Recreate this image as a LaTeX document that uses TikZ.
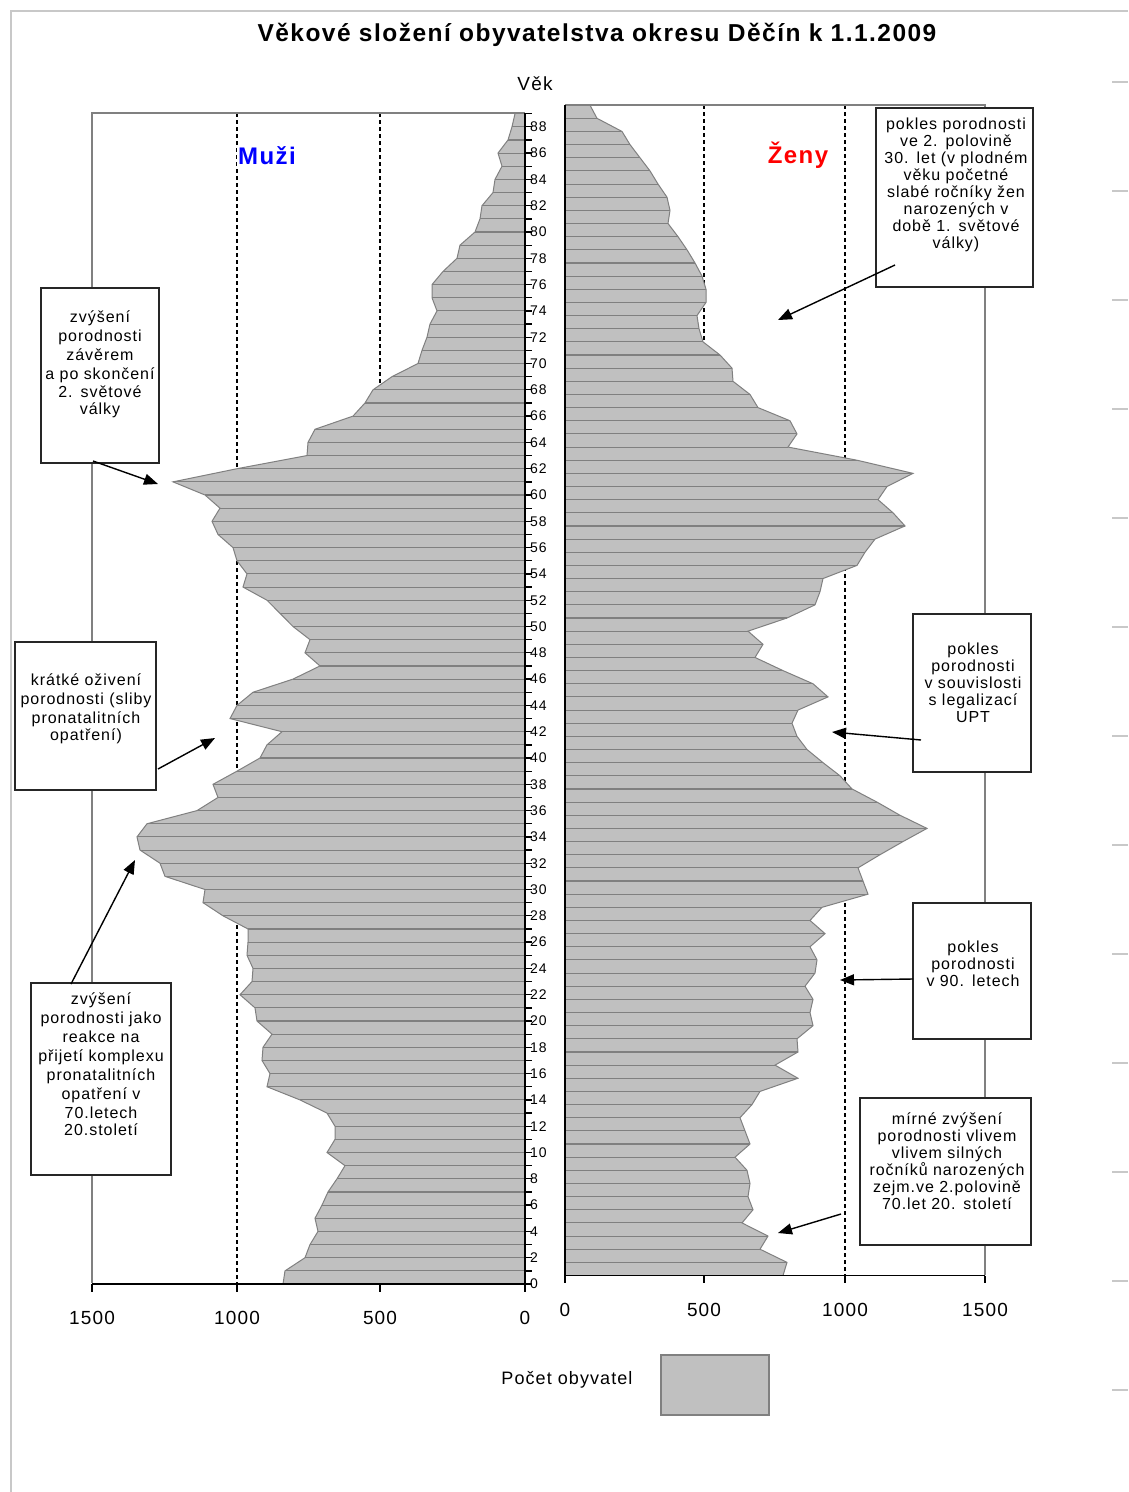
\documentclass[tikz,border=0pt]{standalone}
\usepackage{fontspec}
\setmainfont{Liberation Sans}
\newfontfamily\lsans[LetterSpace=6]{Liberation Sans}
\usetikzlibrary{arrows.meta}
\definecolor{fillg}{HTML}{C0C0C0}
\definecolor{lineg}{HTML}{808080}
\definecolor{frameg}{HTML}{C8C8C8}
\definecolor{muzblue}{HTML}{0000FF}
\definecolor{zenred}{HTML}{FF0000}
\def\maleData{0/283,1/285,2/305,3/310,4/318,5/315,6/322,7/328,8/337,9/345,10/327,11/335,12/335,13/327,14/300,15/267,16/270,17/262,18/263,19/272,20/257,21/255,22/240,23/252,24/253,25/247,26/248,27/248,28/223,29/203,30/205,31/165,32/160,33/140,34/137,35/147,36/197,37/218,38/213,39/237,40/260,41/267,42/282,43/230,44/237,45/253,46/293,47/320,48/305,49/310,50/293,51/280,52/267,53/243,54/247,55/237,56/233,57/218,58/212,59/220,60/205,61/173,62/237,63/307,64/308,65/315,66/353,67/365,68/373,69/392,70/418,71/422,72/427,73/430,74/437,75/432,76/432,77/443,78/457,79/460,80/475,81/480,82/482,83/493,84/495,85/502,86/498,87/508,88/512,89/515}
\def\femaleData{0/783,1/787,2/760,3/768,4/742,5/753,6/748,7/750,8/747,9/735,10/750,11/745,12/740,13/752,14/760,15/798,16/775,17/798,18/797,19/813,20/810,21/813,22/805,23/815,24/817,25/810,26/825,27/810,28/822,29/868,30/863,31/858,32/880,33/903,34/927,35/900,36/877,37/852,38/840,39/823,40/807,41/797,42/792,43/798,44/828,45/813,46/783,47/755,48/763,49/748,50/787,51/815,52/820,53/823,54/857,55/865,56/875,57/905,58/893,59/878,60/887,61/913,62/857,63/788,64/797,65/790,66/758,67/750,68/733,69/732,70/720,71/703,72/699,73/697,74/706,75/706,76/702,77/695,78/687,79/678,80/668,81/670,82/667,83/658,84/650,85/640,86/630,87/622,88/597,89/590}
\begin{document}
\begin{tikzpicture}[x=1pt,y=-1pt,
  gridline/.style={black,line width=1.3pt,dash pattern=on 4pt off 3pt},
  plotframe/.style={lineg,line width=1.3pt},
  axisline/.style={black,line width=1.3pt},
  barline/.style={lineg,line width=1.1pt},
  annbox/.style={draw=black!85,line width=1.5pt,fill=white,rectangle,inner sep=0pt},
  anntext/.style={font=\lsans\fontsize{16}{17}\selectfont,align=center,inner sep=0pt,anchor=north},
  numlbl/.style={font=\lsans\fontsize{19}{22}\selectfont,inner sep=0pt},
  agelbl/.style={font=\lsans\fontsize{14}{16}\selectfont,inner sep=0pt,anchor=west},
  conn/.style={draw=black,line width=1.4pt,-{Triangle[length=14pt,width=11pt]}}]
\useasboundingbox (0,0) rectangle (1128,1492);
\fill[white] (0,0) rectangle (1128,1492);
% outer sheet frame
\draw[frameg,line width=1.3pt] (11,1492) -- (11,11) -- (1128,11);
\foreach \yy in {82,191,...,1390} \draw[frameg,line width=1.3pt] (1112,\yy) -- (1128,\yy);
% title
\node[font=\lsans\bfseries\fontsize{24.5}{28}\selectfont,inner sep=0pt] (title) at (597,35) {Věkové složení obyvatelstva okresu Děčín k 1.1.2009};
\node[font=\lsans\fontsize{19}{22}\selectfont,inner sep=0pt] (vek) at (535,84) {Věk};
% gridlines
\draw[gridline] (237,113) -- (237,1283);
\draw[gridline] (380,113) -- (380,1283);
\draw[gridline] (704,105) -- (704,1275);
\draw[gridline] (845,105) -- (845,1275);
% plot frames
\draw[plotframe] (92,1283) -- (92,113) -- (525,113);
\draw[plotframe] (565,105) -- (985,105) -- (985,1275);
% male area
\fill[fillg] (525,1284) \foreach \a/\v in \maleData { -- (\v,{1284-13.15*\a}) } -- (525,{1284-13.15*89}) -- cycle;
\foreach \a/\v in \maleData { \draw[barline] (525,{1284-13.15*\a}) -- (\v,{1284-13.15*\a}); }
\draw[lineg,line width=1pt] (283,1284) \foreach \a/\v in \maleData { -- (\v,{1284-13.15*\a}) };
% female area
\fill[fillg] (565,1275.5) \foreach \a/\v in \femaleData { -- (\v,{1275.5-13.15*\a}) } -- (565,{1275.5-13.15*89}) -- cycle;
\foreach \a/\v in \femaleData { \draw[barline] (565,{1275.5-13.15*\a}) -- (\v,{1275.5-13.15*\a}); }
\draw[lineg,line width=1pt] (783,1275.5) \foreach \a/\v in \femaleData { -- (\v,{1275.5-13.15*\a}) };
% axes
\draw[axisline] (525,113) -- (525,1284);
\foreach \a in {0,...,89} \draw[axisline] (525,{1284-13.15*\a}) -- (532,{1284-13.15*\a});
\foreach \a in {0,2,...,88} \node[agelbl] (age\a) at (530,{1284-13.15*\a}) {\a};
\draw[axisline] (565,105) -- (565,1276);
\draw[axisline] (92,1284) -- (525,1284);
\foreach \xx in {92,237,380,525} \draw[axisline] (\xx,1284) -- (\xx,1292);
\draw[axisline] (565,1275.5) -- (985,1275.5);
\foreach \xx in {565,704,845,985} \draw[axisline] (\xx,1275.5) -- (\xx,1283);
\node[numlbl] (l1500) at (92,1318) {1500};
\node[numlbl] (l1000) at (237,1318) {1000};
\node[numlbl] (l500) at (380,1318) {500};
\node[numlbl] (l0) at (525,1318) {0};
\node[numlbl] (r0) at (565,1310) {0};
\node[numlbl] (r500) at (704,1310) {500};
\node[numlbl] (r1000) at (845,1310) {1000};
\node[numlbl] (r1500) at (985,1310) {1500};
% series labels
\node[font=\lsans\bfseries\fontsize{24}{28}\selectfont,text=muzblue,fill=white,inner sep=1pt] (muzi) at (267,156) {Muži};
\node[font=\lsans\bfseries\fontsize{24}{28}\selectfont,text=zenred,inner sep=1pt] (zeny) at (798,155) {Ženy};
% legend
\node[font=\lsans\fontsize{18}{22}\selectfont,inner sep=0pt] (legtext) at (567,1380) {Počet obyvatel};
\node[draw=lineg,fill=fillg,line width=1.2pt,minimum width=108pt,minimum height=60pt,inner sep=0pt] (legkey) at (715,1385) {};
% annotation boxes
\node[annbox,minimum width=118pt,minimum height=175pt] (lb1) at (100,375.5) {};
\node[anntext,text width=116pt] (lt1) at (100,311) {\fontsize{16}{18.7}\selectfont zvýšení\\porodnosti\\závěrem\\a po skončení\\2. světové\\války};
\node[annbox,minimum width=141pt,minimum height=148pt] (lb2) at (85.5,716) {};
\node[anntext,text width=139pt] (lt2) at (86,674) {\fontsize{16}{18.7}\selectfont krátké oživení\\porodnosti (sliby\\pronatalitních\\opatření)};
\node[annbox,minimum width=140pt,minimum height=192pt] (lb3) at (101,1079) {};
\node[anntext,text width=138pt] (lt3) at (101,993) {\fontsize{16}{18.9}\selectfont zvýšení\\porodnosti jako\\reakce na\\přijetí komplexu\\pronatalitních\\opatření  v\\70.letech\\20.století};
\node[annbox,minimum width=157pt,minimum height=179pt] (rb1) at (954.5,197.5) {};
\node[anntext,text width=155pt] (rt1) at (956,118) {pokles porodnosti\\ve 2. polovině\\30. let (v plodném\\věku početné\\slabé ročníky žen\\narozených v\\době 1. světové\\války)};
\node[annbox,minimum width=118pt,minimum height=158pt] (rb2) at (972,693) {};
\node[anntext,text width=116pt] (rt2) at (973,643) {pokles\\porodnosti\\v souvislosti\\s legalizací\\UPT};
\node[annbox,minimum width=118pt,minimum height=136pt] (rb3) at (972,971) {};
\node[anntext,text width=116pt] (rt3) at (973,941) {pokles\\porodnosti\\v 90. letech};
\node[annbox,minimum width=171pt,minimum height=147pt] (rb4) at (945.5,1171.5) {};
\node[anntext,text width=169pt] (rt4) at (947,1113) {mírné zvýšení\\porodnosti vlivem\\vlivem silných\\ročníků narozených\\zejm.ve 2.polovině\\70.let 20. století};
% arrows
\coordinate (a1s) at (93,461); \coordinate (a1e) at (158,484);
\coordinate (a2s) at (158,769); \coordinate (a2e) at (215,738);
\coordinate (a3s) at (71,984); \coordinate (a3e) at (135,860);
\coordinate (a4s) at (895,265); \coordinate (a4e) at (778,320);
\coordinate (a5s) at (921,740); \coordinate (a5e) at (832,732);
\coordinate (a6s) at (913,979); \coordinate (a6e) at (840,980);
\coordinate (a7s) at (841,1214); \coordinate (a7e) at (778,1233);
\draw[conn] (a1s) -- (a1e);
\draw[conn] (a2s) -- (a2e);
\draw[conn] (a3s) -- (a3e);
\draw[conn] (a4s) -- (a4e);
\draw[conn] (a5s) -- (a5e);
\draw[conn] (a6s) -- (a6e);
\draw[conn] (a7s) -- (a7e);
\end{tikzpicture}
\end{document}
